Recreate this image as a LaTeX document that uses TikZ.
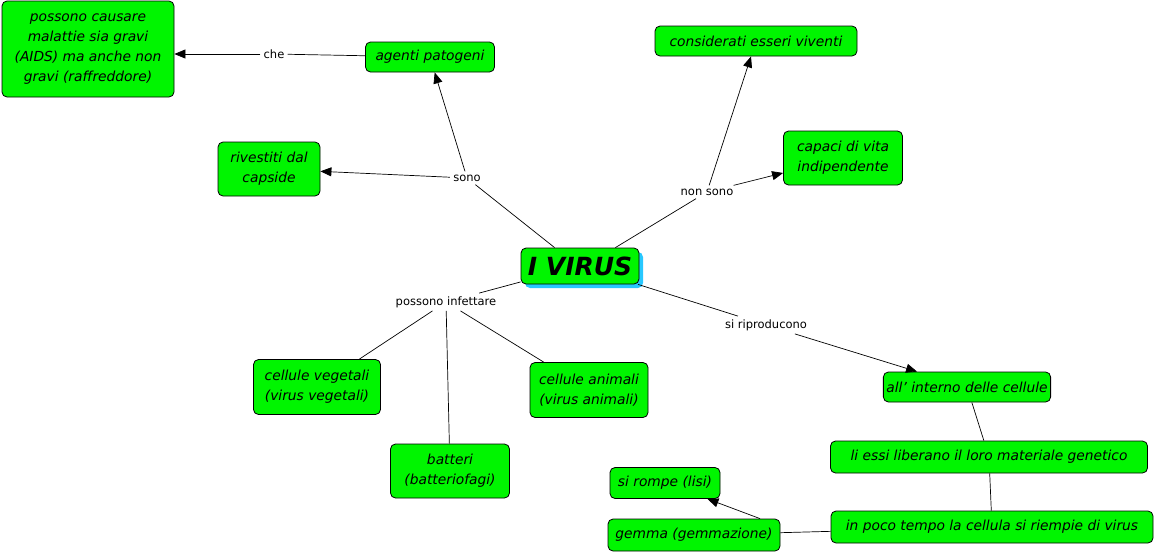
\documentclass[tikz,border=0pt]{standalone}
\usepackage{fontspec}
\setmainfont{DejaVu Sans}
\usetikzlibrary{arrows.meta}
\definecolor{cmapgreen}{RGB}{0,245,0}
\definecolor{cmapshadow}{RGB}{40,200,255}
\begin{document}
\begin{tikzpicture}[x=1pt, y=-1pt, line width=0.7pt,
    concept/.style={draw=black, line width=0.8pt, fill=cmapgreen, rounded corners=5pt, align=center,
      font=\itshape\fontsize{13.8}{20}\selectfont, inner sep=3pt, minimum height=30pt},
    linking/.style={font=\fontsize{11.5}{13}\selectfont, inner sep=3pt},
    link/.style={-{Triangle[length=11pt, width=9pt]}}]
    \useasboundingbox (0,0) rectangle (1156,555);
    % concepts
    \fill[cmapshadow, rounded corners=5pt] (525,252) rectangle (643,288);
    \node[concept, font=\bfseries\itshape\fontsize{25}{28}\selectfont, minimum width=118pt, minimum height=36pt] (virus) at (580,266) {I VIRUS};
    \node[concept, minimum width=172pt, minimum height=96pt] (malattie) at (88,49) {possono causare\\malattie sia gravi\\(AIDS) ma anche non\\gravi (raffreddore)};
    \node[concept, minimum width=129pt] (patogeni) at (430,57) {agenti patogeni};
    \node[concept, minimum width=102pt, minimum height=54pt] (capside) at (269,169) {rivestiti dal\\capside};
    \node[concept, minimum width=202pt] (viventi) at (756,41) {considerati esseri viventi};
    \node[concept, minimum width=119pt, minimum height=54pt] (capaci) at (843,158) {capaci di vita\\ indipendente};
    \node[concept, minimum width=127pt, minimum height=55pt] (vegetali) at (317,387) {cellule vegetali\\(virus vegetali)};
    \node[concept, minimum width=119pt, minimum height=54pt] (batteri) at (450,471) {batteri\\(batteriofagi)};
    \node[concept, minimum width=118pt, minimum height=55pt] (animali) at (589,390) {cellule animali\\(virus animali)};
    \node[concept, minimum width=163pt] (interno) at (967,387) {all' interno delle cellule};
    \node[concept, minimum width=317pt, minimum height=32pt] (genetico) at (989,457) {li essi liberano il loro materiale genetico};
    \node[concept, minimum width=322pt, minimum height=32pt] (riempie) at (992,527) {in poco tempo la cellula si riempie di virus};
    \node[concept, minimum width=110pt, minimum height=31pt] (lisi) at (665,483) {si rompe (lisi)};
    \node[concept, minimum width=172pt, minimum height=32pt] (gemma) at (694,535) {gemma (gemmazione)};
    % linking phrases
    \node[linking] (che) at (274,54) {che};
    \node[linking] (sono) at (467,178) {sono};
    \node[linking] (nonsono) at (707,192) {non sono};
    \node[linking] (infettare) at (446,302) {possono infettare};
    \node[linking] (riproducono) at (766,325) {si riproducono};
    % connectors
    \draw (patogeni) -- (che);
    \draw[link] (che) -- (malattie.east |- che);
    \draw (virus.north west) ++(34,0) -- (sono);
    \draw[link] (sono) -- (patogeni);
    \draw[link] (sono) -- (capside);
    \draw (virus.north east) ++(-24,0) -- (nonsono);
    \draw[link] (nonsono) -- (viventi);
    \draw[link] (nonsono) -- (capaci);
    \draw (virus) -- (infettare);
    \draw (infettare) -- (vegetali);
    \draw (infettare) -- (batteri);
    \draw (infettare) -- (animali);
    \draw (virus) -- (riproducono);
    \draw[link] (riproducono) -- (interno);
    \draw (interno) -- (genetico);
    \draw (genetico) -- (riempie);
    \draw (riempie) -- (gemma);
    \draw[link] (gemma.north) ++(66,0) -- (lisi);
\end{tikzpicture}
\end{document}
